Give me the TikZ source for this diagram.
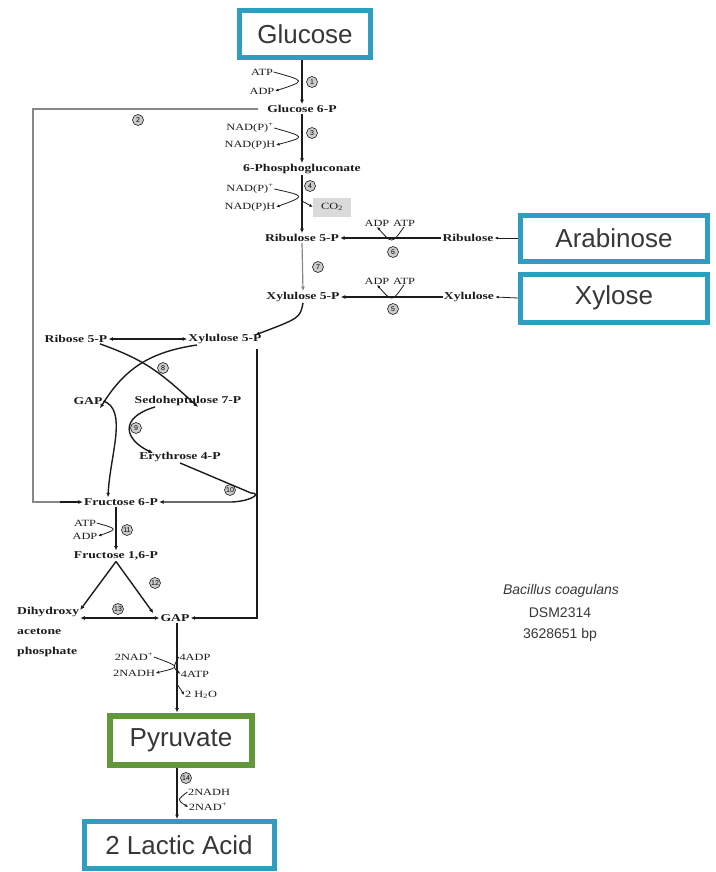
\documentclass[tikz,border=0pt]{standalone}
\usepackage{fontspec}
\setmainfont{Liberation Serif}
\setsansfont{Liberation Sans}
\newfontfamily\metfont{Liberation Serif}[FakeStretch=1.3]
\usetikzlibrary{arrows.meta}
\definecolor{boxblue}{RGB}{47,157,192}
\definecolor{boxgreen}{RGB}{98,152,58}
\definecolor{ink}{RGB}{28,28,28}
\definecolor{boxtext}{RGB}{55,55,55}
\definecolor{co2gray}{RGB}{218,218,218}
\definecolor{guide}{RGB}{135,135,135}

\begin{document}
\begin{tikzpicture}[x=1pt,y=-1pt,
  sugarbox/.style={draw=boxblue, line width=5pt, fill=white, inner sep=0pt,
    font=\sffamily\fontsize{26}{29}\selectfont, text=boxtext},
  met/.style={font=\metfont\bfseries\fontsize{10.5}{12}\selectfont, text=ink, inner sep=1pt},
  cof/.style={font=\metfont\fontsize{9.5}{11}\selectfont, text=ink, inner sep=0.5pt},
  enz/.style={circle, draw=ink, fill=gray!40, line width=0.6pt, inner sep=0pt,
    minimum size=11pt, font=\sffamily\fontsize{7}{7}\selectfont},
  flow/.style={draw=ink, line width=1.4pt, -{Latex[length=4.5pt,width=4pt]}},
  flowboth/.style={draw=ink, line width=1.4pt, {Latex[length=4.5pt,width=4pt]}-{Latex[length=4.5pt,width=4pt]}},
  side/.style={draw=ink, line width=0.8pt, -{Latex[length=3.5pt,width=3pt]}},
  guideline/.style={draw=guide, line width=1.2pt},
  legend/.style={font=\sffamily\fontsize{14}{16}\selectfont, text=boxtext, inner sep=0pt}]

\useasboundingbox (0,0) rectangle (715,872);

% ---- substrate and product boxes ----
\node[sugarbox, minimum width=131pt, minimum height=47pt] (glc) at (305,34) {Glucose};
\node[sugarbox, minimum width=187pt, minimum height=46pt] (ara) at (614,238) {Arabinose};
\node[sugarbox, minimum width=187pt, minimum height=48pt] (xyl) at (614,298) {Xylose};
\node[sugarbox, draw=boxgreen, line width=6pt, minimum width=142pt, minimum height=49pt] (pyr) at (181,740) {Pyruvate};
\node[sugarbox, minimum width=190pt, minimum height=47pt] (lac) at (179,845) {2 Lactic Acid};

% ---- metabolites ----
\node[met] (g6p)  at (302,109) {Glucose 6-P};
\node[met] (pg6)  at (302,169) {6-Phosphogluconate};
\node[met] (ru5p) at (302,238) {Ribulose 5-P};
\node[met] (xu5p) at (303,297) {Xylulose 5-P};
\node[met] (rul)  at (468,238) {Ribulose};
\node[met] (xul)  at (469,297) {Xylulose};
\node[met] (r5p)  at (76,339)  {Ribose 5-P};
\node[met] (xu5pb) at (225,339) {Xylulose 5-P};
\node[met] (gapa) at (88,401)  {GAP};
\node[met] (s7p)  at (188,401) {Sedoheptulose 7-P};
\node[met] (e4p)  at (180,457) {Erythrose 4-P};
\node[met] (f6p)  at (121,502) {Fructose 6-P};
\node[met] (f16p) at (116,556) {Fructose 1,6-P};
\node[met, anchor=north west, align=left, font=\metfont\bfseries\fontsize{10.5}{20}\selectfont] (dhap) at (16,606) {Dihydroxy\\acetone\\phosphate};
\node[met] (gapb) at (175,618) {GAP};

% ---- cofactors ----
\node[cof] (atpa)  at (262,72)  {ATP};
\node[cof] (adpa)  at (262,91)  {ADP};
\node[cof] (nadpa) at (250,128) {NAD(P)\textsuperscript{+}};
\node[cof] (nadpha) at (250,145) {NAD(P)H};
\node[cof] (nadpb) at (250,189) {NAD(P)\textsuperscript{+}};
\node[cof] (nadphb) at (250,207) {NAD(P)H};
\node[cof, fill=co2gray, minimum width=38pt, minimum height=19pt] (co2) at (332,207) {CO\textsubscript{2}};
\node[cof] (adpb)  at (377,223) {ADP};
\node[cof] (atpb)  at (404,223) {ATP};
\node[cof] (adpc)  at (377,281) {ADP};
\node[cof] (atpc)  at (404,281) {ATP};
\node[cof] (atpd)  at (85,523)  {ATP};
\node[cof] (adpd)  at (85,536)  {ADP};
\node[cof] (nada)  at (134,657) {2NAD\textsuperscript{+}};
\node[cof] (nadha) at (134,673) {2NADH};
\node[cof] (adpe)  at (195,657) {4ADP};
\node[cof] (atpe)  at (195,674) {4ATP};
\node[cof] (water) at (201,695) {2 H\textsubscript{2}O};
\node[cof] (nadhb) at (209,792) {2NADH};
\node[cof] (nadb)  at (208,807) {2NAD\textsuperscript{+}};

% ---- enzyme numbers ----
\node[enz] (k1)  at (312,82)  {1};
\node[enz] (k2)  at (138,120) {2};
\node[enz] (k3)  at (312,133) {3};
\node[enz] (k4)  at (310,186) {4};
\node[enz] (k6)  at (393,252) {6};
\node[enz] (k7)  at (318,267) {7};
\node[enz] (k5)  at (393,309) {5};
\node[enz] (k8)  at (163,368) {8};
\node[enz] (k9)  at (136,428) {9};
\node[enz] (k10) at (230,490) {10};
\node[enz] (k11) at (127,530) {11};
\node[enz] (k12) at (155,583) {12};
\node[enz] (k13) at (118,609) {13};
\node[enz] (k14) at (186,778) {14};

% ---- oxidative branch ----
\draw[flow] (g6p.north |- glc.south) -- (g6p.north);
\draw[side] (atpa.east) .. controls (306,81) .. (adpa.east);
\draw[flow] (g6p.south) -- (pg6.north);
\draw[side] (nadpa.east) .. controls (306,137) .. (nadpha.east);
\draw[flow] (pg6.south) -- (ru5p.north);
\draw[side] (nadpb.east) .. controls (306,196) .. (nadphb.east);
\draw[side] (302,201) -- (co2.west);

% ---- pentose entry ----
\draw[side] (ara.west) -- (rul.east);
\draw[side] (xyl.west) -- (xul.east);
\draw[flow] (rul.west) -- (ru5p.east);
\draw[flow] (xul.west) -- (xu5p.east);
\draw[side] (atpb.south) .. controls (392,244) .. (adpb.south);
\draw[side] (atpc.south) .. controls (392,302) .. (adpc.south);
\draw[guideline, -{Latex[length=4.5pt,width=4pt]}] (ru5p.south) -- (xu5p.north);

% ---- pentose phosphate rearrangements ----
\draw[flow] (xu5p.south) .. controls (300,318) .. ([xshift=30pt,yshift=-2pt]xu5pb.north);
\draw[flowboth] (r5p.east) -- (xu5pb.west);
\draw[flow] ([xshift=24pt]r5p.south) .. controls (145,360) and (160,372) .. ([xshift=10pt,yshift=-12pt]s7p.north);
\draw[flow] ([xshift=-28pt]xu5pb.south) .. controls (150,352) and (125,368) .. ([xshift=12pt,yshift=-12pt]gapa.north);
\draw[flow] (gapa.east) .. controls (128,410) and (110,455) .. ([xshift=-13pt]f6p.north);
\draw[flow] ([xshift=-33pt]s7p.south) .. controls (118,418) and (125,440) .. ([xshift=-27pt,yshift=-2pt]e4p.north);
\coordinate (tal) at (257,491);
\draw[flow] (e4p.south) -- ([xshift=-6pt,yshift=-2pt]tal) .. controls (262,493) and (252,501) .. (232,502) -- (f6p.east);
\coordinate (rtop) at (257,349);
\draw[flow] (rtop) |- (gapb.east);

% ---- glucose 6-P shortcut ----
\draw[guideline] ([xshift=-8pt]g6p.west) -- (33,109) |- (60,502);
\draw[flow] (60,502) -- (f6p.west);

% ---- lower glycolysis ----
\draw[flow] (f16p.north |- f6p.south) -- (f16p.north);
\draw[side] (atpd.east) .. controls (118,529) .. (adpd.east);
\draw[flow] (f16p.south) -- ([xshift=32pt,yshift=-4pt]dhap.north);
\draw[flow] (f16p.south) -- ([xshift=-6pt]gapb.north west);
\draw[flowboth] (gapb.west -| dhap.east) -- (gapb.west);
\draw[flow] ([xshift=2pt]gapb.south) -- ([xshift=-4pt]pyr.north);
\draw[side] (nada.east) .. controls (181,667) .. (nadha.east);
\draw[side] (adpe.west) .. controls (173,667) .. (atpe.west);
\draw[side] (177,684) -- (water.west);
\draw[flow] ([xshift=-4pt]pyr.south) -- ([xshift=-2pt]lac.north);
\draw[side] (nadhb.west) .. controls (177,800) .. (nadb.west);

% ---- organism note ----
\node[legend] (org) at (561,591) {\itshape Bacillus coagulans};
\node[legend] (strain) at (560,613) {DSM2314};
\node[legend] (size) at (560,635) {3628651 bp};
\end{tikzpicture}
\end{document}
